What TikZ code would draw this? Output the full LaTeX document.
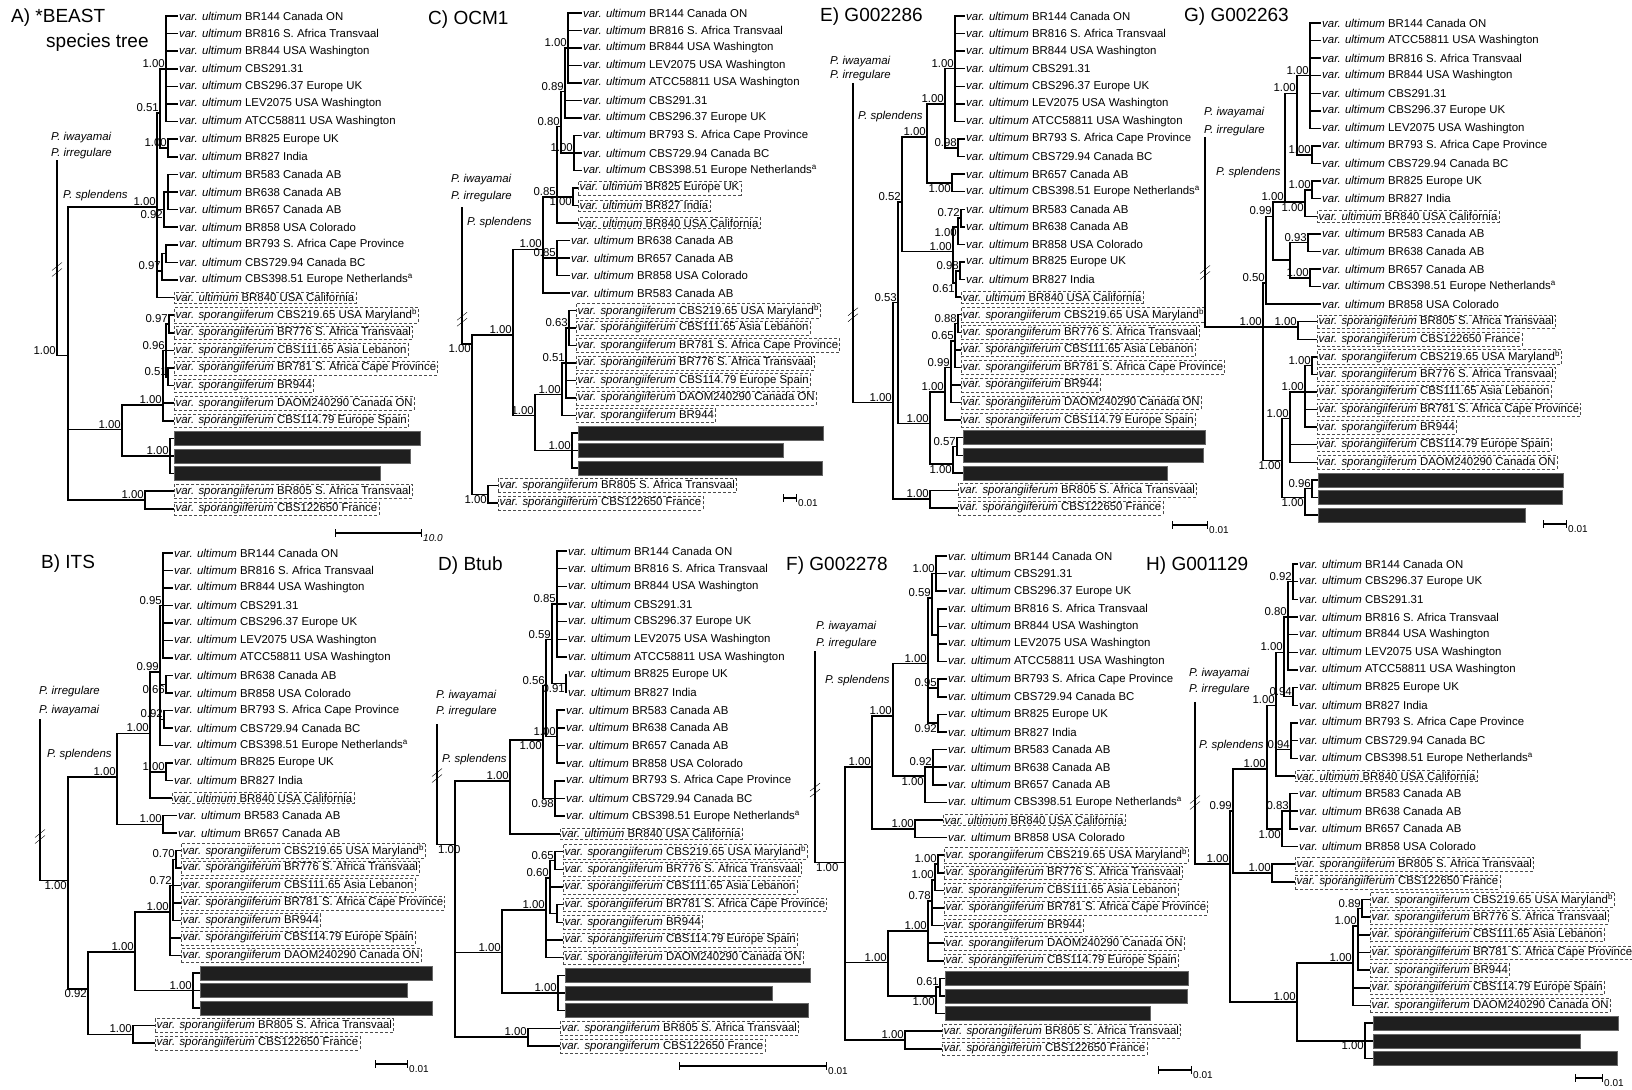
\documentclass[tikz,border=0pt]{standalone}
\usepackage{fontspec}
\setmainfont{Liberation Sans}
\usepackage{tikz}
\usetikzlibrary{positioning,calc}
\newcommand{\lfont}{\fontsize{11.4}{13}\selectfont}
\newcommand{\ult}[1]{\textit{var. ultimum} #1}
\newcommand{\spo}[1]{\textit{var. sporangiiferum} #1}
\newcommand{\supa}{\textsuperscript{a}}
\newcommand{\supb}{\textsuperscript{b}}
% clade: [label anchor]{name}{x}{row}{support}{children}
\newcommand{\clade}[6][south east]{%
  \coordinate (#2) at (#3,#4);
  \node[sup, anchor=#1] (#2l) at (#2) {#5};
  \foreach \ch in {#6} {\draw[br] (#2) |- (\ch);}}
% break mark on a root branch
\newcommand{\brk}[1]{\draw[thin] ([shift={(-5pt,-7pt)}]#1) -- ([shift={(5pt,1pt)}]#1) ([shift={(-5pt,-1pt)}]#1) -- ([shift={(5pt,7pt)}]#1);}

\begin{document}
\begin{tikzpicture}[x=1pt, y=-1pt,
  leaf/.style={anchor=west, inner sep=1pt, font=\lfont},
  boxleaf/.style={leaf, draw=black!70, densely dashed, line width=0.4pt, inner sep=1.5pt},
  darkleaf/.style={anchor=west, fill=black!88, draw=black!60, minimum height=14pt, inner sep=0pt},
  sup/.style={inner sep=1pt, font=\lfont},
  taxon/.style={anchor=west, inner sep=1pt, font=\lfont\itshape},
  title/.style={anchor=west, inner sep=0pt, font=\fontsize{19}{22}\selectfont},
  br/.style={line width=1.5pt},
  scalebar/.style={line width=1.2pt, |-|},
  scalelbl/.style={anchor=north west, inner sep=1pt, font=\fontsize{10}{12}\selectfont}
]
\useasboundingbox (0,0) rectangle (1632,1089);
\fill[white] (0,0) rectangle (1632,1089);

% Titles
\node[title] (tA) at (11,18) {A) *BEAST};
\node[title] (tA2) at (46,43) {species tree};
\node[title] (tC) at (428,20) {C) OCM1};
\node[title] (tE) at (820,17) {E) G002286};
\node[title] (tG) at (1184,17) {G) G002263};
\node[title] (tB) at (41,564) {B) ITS};
\node[title] (tD) at (438,566) {D) Btub};
\node[title] (tF) at (786,566) {F) G002278};
\node[title] (tH) at (1146,566) {H) G001129};

% A) *BEAST species tree
\begin{scope}[y=-17.6pt, yshift=-16pt]
\foreach \txt [count=\i from 0] in {BR144 Canada ON, BR816 S. Africa Transvaal, BR844 USA Washington, CBS291.31, CBS296.37 Europe UK, LEV2075 USA Washington, ATCC58811 USA Washington, BR825 Europe UK, BR827 India, BR583 Canada AB, BR638 Canada AB, BR657 Canada AB, BR858 USA Colorado, BR793 S. Africa Cape Province, CBS729.94 Canada BC, CBS398.51 Europe Netherlands\supa}
  \node[leaf] (a\i) at (178,\i) {\ult{\txt}};
\node[boxleaf] (a16) at (174,16) {\ult{BR840 USA California}};
\foreach \txt [count=\i from 17] in {CBS219.65 USA Maryland\supb, BR776 S. Africa Transvaal, CBS111.65 Asia Lebanon, BR781 S. Africa Cape Province, BR944, DAOM240290 Canada ON, CBS114.79 Europe Spain}
  \node[boxleaf] (a\i) at (174,\i) {\spo{\txt}};
\foreach \w [count=\i from 24] in {246,236,206}
  \node[darkleaf, minimum width=\w pt] (a\i) at (174,\i) {};
\node[boxleaf] (a27) at (174,27) {\spo{BR805 S. Africa Transvaal}};
\node[boxleaf] (a28) at (174,28) {\spo{CBS122650 France}};
\clade{aU5}{166}{3}{1.00}{a0,a1,a2,a3,a4,a5,a6}
\clade{aU6}{168}{7.5}{1.00}{a7,a8}
\clade{aU2}{160}{5.5}{0.51}{aU5,aU6}
\clade{aU7}{168}{10}{}{a9,a10,a11}
\clade[north east]{aU3}{164}{11}{0.92}{aU7,a12}
\clade{aU8}{166}{13.5}{}{a13,a14}
\clade{aU4}{162}{14.5}{0.97}{aU8,a15}
\clade{aU}{157}{10.85}{1.00}{aU2,aU3,aU4,a16}
\clade{aP3}{169}{17.5}{0.97}{a17,a18}
\clade{aP4}{168}{20.5}{0.51}{a20,a21}
\clade{aP2}{166}{19}{0.96}{aP3,a19,aP4}
\clade{aP1}{163}{22.1}{1.00}{aP2,a22,a23}
\clade{aD}{170}{25}{1.00}{a24,a25,a26}
\clade{aP}{122}{23.5}{1.00}{aP1,aD}
\clade{aB}{145}{27.5}{1.00}{a27,a28}
\clade{aI}{68}{19.3}{}{aU,aP,aB}
\node[taxon] (aOg1) at (50,6.9) {P. iwayamai};
\node[taxon] (aOg2) at (50,7.8) {P. irregulare};
\node[taxon] (aSpl) at (62,10.2) {P. splendens};
\coordinate (aO) at (57,8.2);
\coordinate (aR) at (57,19.3);
\draw[br] (aO) -- (aR) -- (aI);
\node[sup, anchor=south east] (aRl) at (aR) {1.00};
\coordinate (aK) at (57,14.4);
\brk{aK}
\end{scope}

% C) OCM1
\begin{scope}[y=-17.5pt, yshift=-13pt]
\foreach \txt [count=\i from 0] in {BR144 Canada ON, BR816 S. Africa Transvaal, BR844 USA Washington, LEV2075 USA Washington, ATCC58811 USA Washington, CBS291.31, CBS296.37 Europe UK, BR793 S. Africa Cape Province, CBS729.94 Canada BC, CBS398.51 Europe Netherlands\supa}
  \node[leaf] (c\i) at (582,\i) {\ult{\txt}};
\foreach \txt [count=\i from 10] in {BR825 Europe UK, BR827 India, BR840 USA California}
  \node[boxleaf] (c\i) at (578,\i) {\ult{\txt}};
\foreach \txt [count=\i from 13] in {BR638 Canada AB, BR657 Canada AB, BR858 USA Colorado, BR583 Canada AB}
  \node[leaf] (c\i) at (570,\i) {\ult{\txt}};
\foreach \txt [count=\i from 17] in {CBS219.65 USA Maryland\supb, CBS111.65 Asia Lebanon, BR781 S. Africa Cape Province, BR776 S. Africa Transvaal, CBS114.79 Europe Spain, DAOM240290 Canada ON, BR944}
  \node[boxleaf] (c\i) at (576,\i) {\spo{\txt}};
\foreach \w [count=\i from 24] in {245,205,244}
  \node[darkleaf, minimum width=\w pt] (c\i) at (578,\i) {};
\node[boxleaf] (c27) at (498,27) {\spo{BR805 S. Africa Transvaal}};
\node[boxleaf] (c28) at (498,28) {\spo{CBS122650 France}};
\clade{cS7}{568}{2}{1.00}{c0,c1,c2,c3,c4}
\clade{cS5}{565}{4.5}{0.89}{cS7,c5,c6}
\clade{cS6}{574}{8}{1.00}{c7,c8,c9}
\clade{cS3}{561}{6.5}{0.80}{cS5,cS6}
\clade[north east]{cS4}{573}{10.5}{1.00}{c10,c11}
\clade{cS1}{557}{10.5}{0.85}{cS3,cS4,c12}
\clade{cS2}{557}{14}{0.85}{c13,c14,c15}
\clade{cS}{543}{13.5}{1.00}{cS1,cS2,c16}
\clade{cSP3}{569}{18}{0.63}{c17,c18,c19}
\clade{cSP2}{566}{20}{0.51}{cSP3,c20,c21,c22}
\clade{cSP1}{562}{21.8}{1.00}{cSP2,c23}
\clade{cD}{572}{25}{1.00}{c24,c25,c26}
\clade{cSPP}{535}{23}{1.00}{cSP1,cD}
\clade{cM}{513}{18.4}{1.00}{cS,cSPP}
\clade[north east]{cB}{488}{27.5}{1.00}{c27,c28}
\clade[north east]{cI}{472}{18.9}{1.00}{cM,cB}
\node[taxon] (cOg1) at (450,9.5) {P. iwayamai};
\node[taxon] (cOg2) at (450,10.5) {P. irregulare};
\node[taxon] (cSpl) at (466,12) {P. splendens};
\coordinate (cO) at (462,11.1);
\coordinate (cR) at (462,18.9);
\draw[br] (cO) -- (cR) -- (cI);
\coordinate (cK) at (462,17.5);
\brk{cK}
\end{scope}

% E) G002286
\begin{scope}[y=-17.57pt, yshift=-16pt]
\foreach \txt [count=\i from 0] in {BR144 Canada ON, BR816 S. Africa Transvaal, BR844 USA Washington, CBS291.31, CBS296.37 Europe UK, LEV2075 USA Washington, ATCC58811 USA Washington, BR793 S. Africa Cape Province, CBS729.94 Canada BC, BR657 Canada AB, CBS398.51 Europe Netherlands\supa, BR583 Canada AB, BR638 Canada AB, BR858 USA Colorado, BR825 Europe UK, BR827 India}
  \node[leaf] (e\i) at (965,\i) {\ult{\txt}};
\node[boxleaf] (e16) at (961,16) {\ult{BR840 USA California}};
\foreach \txt [count=\i from 17] in {CBS219.65 USA Maryland\supb, BR776 S. Africa Transvaal, CBS111.65 Asia Lebanon, BR781 S. Africa Cape Province, BR944, DAOM240290 Canada ON, CBS114.79 Europe Spain}
  \node[boxleaf] (e\i) at (961,\i) {\spo{\txt}};
\foreach \w [count=\i from 24] in {242,240,204}
  \node[darkleaf, minimum width=\w pt] (e\i) at (963,\i) {};
\node[boxleaf] (e27) at (958,27) {\spo{BR805 S. Africa Transvaal}};
\node[boxleaf] (e28) at (958,28) {\spo{CBS122650 France}};
\clade{eUc}{955}{3}{1.00}{e0,e1,e2,e3,e4,e5,e6}
\clade{eUd}{958}{7.5}{0.98}{e7,e8}
\clade{eUa}{945}{5}{1.00}{eUc,eUd}
\clade[north east]{eUb}{952}{9.5}{1.00}{e9,e10}
\clade{eU}{927}{6.9}{1.00}{eUa,eUb}
\clade{eV0}{961}{11.5}{0.72}{e11,e12}
\clade[north east]{eV1}{958}{12}{1.00}{eV0,e13}
\clade{eV2}{960}{14.5}{0.98}{e14,e15}
\clade[north east]{eV3}{956}{15.2}{0.61}{eV2,e16}
\clade{eV}{953}{13.4}{1.00}{eV1,eV3}
\clade{eU0}{902}{10.6}{0.52}{eU,eV}
\clade{eSP4}{958}{17.5}{0.88}{e17,e18}
\clade{eSP3}{955}{18.5}{0.65}{eSP4,e19,e20}
\clade{eSP2}{951}{20}{0.99}{eSP3,e21,e22}
\clade{eSP1}{945}{21.4}{1.00}{eSP2,e23}
\clade{eDk2}{957}{24.5}{0.57}{e24,e25}
\clade[north east]{eDk}{953}{25.5}{1.00}{eDk2,e26}
\clade{eSP}{930}{23.2}{1.00}{eSP1,eDk}
\clade{eJ}{898}{16.3}{0.53}{eU0,eSP}
\clade{eB}{930}{27.5}{1.00}{e27,e28}
\clade{eI}{893}{22}{1.00}{eJ,eB}
\node[taxon] (eOg1) at (829,2.6) {P. iwayamai};
\node[taxon] (eOg2) at (829,3.4) {P. irregulare};
\node[taxon] (eSpl) at (857,5.7) {P. splendens};
\coordinate (eO) at (853,3.8);
\coordinate (eR) at (853,22);
\draw[br] (eO) -- (eR) -- (eI);
\coordinate (eK) at (853,17);
\brk{eK}
\end{scope}

% G) G002263
\begin{scope}[y=-17.57pt, yshift=-23pt]
\foreach \txt [count=\i from 0] in {BR144 Canada ON, ATCC58811 USA Washington, BR816 S. Africa Transvaal, BR844 USA Washington, CBS291.31, CBS296.37 Europe UK, LEV2075 USA Washington, BR793 S. Africa Cape Province, CBS729.94 Canada BC, BR825 Europe UK, BR827 India}
  \node[leaf] (g\i) at (1321,\i) {\ult{\txt}};
\node[boxleaf] (g11) at (1317,11) {\ult{BR840 USA California}};
\foreach \txt [count=\i from 12] in {BR583 Canada AB, BR638 Canada AB, BR657 Canada AB, CBS398.51 Europe Netherlands\supa, BR858 USA Colorado}
  \node[leaf] (g\i) at (1321,\i) {\ult{\txt}};
\foreach \txt [count=\i from 17] in {BR805 S. Africa Transvaal, CBS122650 France, CBS219.65 USA Maryland\supb, BR776 S. Africa Transvaal, CBS111.65 Asia Lebanon, BR781 S. Africa Cape Province, BR944, CBS114.79 Europe Spain, DAOM240290 Canada ON}
  \node[boxleaf] (g\i) at (1317,\i) {\spo{\txt}};
\foreach \w [count=\i from 26] in {245,244,207}
  \node[darkleaf, minimum width=\w pt] (g\i) at (1318,\i) {};
\clade{gM3}{1310}{3}{1.00}{g0,g1,g2,g3,g4,g5,g6}
\clade{gM4}{1312}{7.5}{1.00}{g7,g8}
\clade{gM1}{1297}{4}{1.00}{gM3,gM4}
\clade{gM5}{1312}{9.5}{1.00}{g9,g10}
\clade[north east]{gM2}{1305}{10.2}{1.00}{gM5,g11}
\clade{gM}{1285}{10.2}{1.00}{gM1,gM2}
\clade{gN1}{1308}{12.5}{0.93}{g12,g13}
\clade{gN2}{1310}{14.5}{1.00}{g14,g15}
\clade{gN}{1290}{13.5}{}{gN1,gN2}
\clade{gL}{1273}{11}{0.99}{gM,gN}
\clade{gK}{1266}{14.8}{0.50}{gL,g16}
\clade{gB}{1298}{17.3}{1.00}{g17,g18}
\clade{gSP3}{1312}{19.5}{1.00}{g19,g20}
\clade{gSP2}{1305}{21}{1.00}{gSP3,g21,g22,g23}
\clade{gSP1}{1290}{22.5}{1.00}{gSP2,g24,g25}
\clade{gDk2}{1312}{26.5}{0.96}{g26,g27}
\clade[north east]{gDk}{1305}{27}{1.00}{gDk2,g28}
\clade[north east]{gSP}{1282}{24.9}{1.00}{gSP1,gDk}
\clade{gI}{1263}{17.3}{1.00}{gK,gB,gSP}
\node[taxon] (gOg1) at (1203,5.1) {P. iwayamai};
\node[taxon] (gOg2) at (1203,6.1) {P. irregulare};
\node[taxon] (gSpl) at (1215,8.5) {P. splendens};
\coordinate (gO) at (1205,6.5);
\coordinate (gR) at (1205,17.3);
\draw[br] (gO) -- (gR) -- (gI);
\coordinate (gK2) at (1205,14.2);
\brk{gK2}
\end{scope}

% B) ITS
\begin{scope}[y=-17.5pt, yshift=-553pt]
\foreach \txt [count=\i from 0] in {BR144 Canada ON, BR816 S. Africa Transvaal, BR844 USA Washington, CBS291.31, CBS296.37 Europe UK, LEV2075 USA Washington, ATCC58811 USA Washington, BR638 Canada AB, BR858 USA Colorado, BR793 S. Africa Cape Province, CBS729.94 Canada BC, CBS398.51 Europe Netherlands\supa, BR825 Europe UK, BR827 India}
  \node[leaf] (b\i) at (173,\i) {\ult{\txt}};
\node[boxleaf] (b14) at (172,14) {\ult{BR840 USA California}};
\foreach \txt [count=\i from 15] in {BR583 Canada AB, BR657 Canada AB}
  \node[leaf] (b\i) at (177,\i) {\ult{\txt}};
\foreach \txt [count=\i from 17] in {CBS219.65 USA Maryland\supb, BR776 S. Africa Transvaal, CBS111.65 Asia Lebanon, BR781 S. Africa Cape Province, BR944, CBS114.79 Europe Spain, DAOM240290 Canada ON}
  \node[boxleaf] (b\i) at (181,\i) {\spo{\txt}};
\foreach \w [count=\i from 24] in {232,207,232}
  \node[darkleaf, minimum width=\w pt] (b\i) at (200,\i) {};
\node[boxleaf] (b27) at (155,27) {\spo{BR805 S. Africa Transvaal}};
\node[boxleaf] (b28) at (155,28) {\spo{CBS122650 France}};
\clade{bU5}{163}{3}{0.95}{b0,b1,b2,b3,b4,b5,b6}
\clade[north east]{bU6}{166}{7.5}{0.66}{b7,b8}
\clade{bU7}{164}{9.5}{0.92}{b9,b10}
\clade{bU3}{160}{6.8}{0.99}{bU5,bU6,bU7,b11}
\clade{bU4}{166}{12.5}{1.00}{b12,b13}
\clade{bU1}{150}{10.3}{1.00}{bU3,bU4,b14}
\clade{bU2}{163}{15.5}{1.00}{b15,b16}
\clade{bU}{117}{12.8}{1.00}{bU1,bU2}
\clade{bSP3}{176}{17.5}{0.70}{b17,b18}
\clade{bSP2}{173}{19}{0.72}{bSP3,b19,b20,b21}
\clade{bSP1}{170}{20.5}{1.00}{bSP2,b22,b23}
\clade{bDk}{193}{25}{1.00}{b24,b25,b26}
\clade{bSPP}{135}{22.8}{1.00}{bSP1,bDk}
\clade{bB}{133}{27.5}{1.00}{b27,b28}
\clade[north east]{bQ}{88}{24.9}{0.92}{bSPP,bB}
\clade[north east]{bI}{68}{18.7}{1.00}{bU,bQ}
\node[taxon] (bOg1) at (38,7.9) {P. irregulare};
\node[taxon] (bOg2) at (38,9) {P. iwayamai};
\node[taxon] (bSpl) at (46,11.5) {P. splendens};
\coordinate (bO) at (40,9.5);
\coordinate (bR) at (40,18.7);
\draw[br] (bO) -- (bR) -- (bI);
\coordinate (bK) at (40,16.2);
\brk{bK}
\end{scope}

% D) Btub
\begin{scope}[y=-17.68pt, yshift=-551pt]
\foreach \txt [count=\i from 0] in {BR144 Canada ON, BR816 S. Africa Transvaal, BR844 USA Washington, CBS291.31, CBS296.37 Europe UK, LEV2075 USA Washington, ATCC58811 USA Washington, BR825 Europe UK, BR827 India}
  \node[leaf] (d\i) at (567,\i) {\ult{\txt}};
\foreach \txt [count=\i from 9] in {BR583 Canada AB, BR638 Canada AB, BR657 Canada AB, BR858 USA Colorado, BR793 S. Africa Cape Province, CBS729.94 Canada BC, CBS398.51 Europe Netherlands\supa}
  \node[leaf] (d\i) at (565,\i) {\ult{\txt}};
\node[boxleaf] (d16) at (560,16) {\ult{BR840 USA California}};
\foreach \txt [count=\i from 17] in {CBS219.65 USA Maryland\supb, BR776 S. Africa Transvaal, CBS111.65 Asia Lebanon, BR781 S. Africa Cape Province, BR944, CBS114.79 Europe Spain, DAOM240290 Canada ON}
  \node[boxleaf] (d\i) at (563,\i) {\spo{\txt}};
\foreach \w [count=\i from 24] in {245,207,243}
  \node[darkleaf, minimum width=\w pt] (d\i) at (565,\i) {};
\node[boxleaf] (d27) at (560,27) {\spo{BR805 S. Africa Transvaal}};
\node[boxleaf] (d28) at (560,28) {\spo{CBS122650 France}};
\clade{dU7}{557}{3}{0.85}{d0,d1,d2,d3,d4,d5,d6}
\clade[north east]{dU6}{566}{7.5}{0.91}{d7,d8}
\clade{dU2}{552}{5}{0.59}{dU7,dU6}
\clade{dU3}{557}{10.5}{1.00}{d9,d10,d11,d12}
\clade{dUa}{546}{7.6}{0.56}{dU2,dU3}
\clade[north east]{dU4}{555}{14}{0.98}{d13,d14,d15}
\clade[north east]{dU1}{543}{10.7}{1.00}{dUa,dU4}
\clade{dU}{510}{13}{1.00}{dU1,d16}
\clade{dSP3}{555}{17.5}{0.65}{d17,d18}
\clade{dSP4}{557}{20.5}{}{d20,d21}
\clade{dSP2}{550}{18.5}{0.60}{dSP3,d19,dSP4}
\clade{dSP1}{546}{20.3}{1.00}{dSP2,d22,d23}
\clade{dDk}{558}{25}{1.00}{d24,d25,d26}
\clade{dSPP}{502}{22.7}{1.00}{dSP1,dDk}
\clade{dB}{528}{27.5}{1.00}{d27,d28}
\clade{dI}{455}{16.6}{}{dU,dSPP,dB}
\node[taxon] (dOg1) at (435,8.2) {P. iwayamai};
\node[taxon] (dOg2) at (435,9.1) {P. irregulare};
\node[taxon] (dSpl) at (441,11.8) {P. splendens};
\coordinate (dO) at (437,9.8);
\coordinate (dR) at (437,16.6);
\draw[br] (dO) -- (dR) -- (dI);
\node[sup, anchor=north west] (dRl) at (dR) {1.00};
\coordinate (dK) at (437,12.7);
\brk{dK}
\end{scope}

% F) G002278
\begin{scope}[y=-17.6pt, yshift=-556pt]
\foreach \txt [count=\i from 0] in {BR144 Canada ON, CBS291.31, CBS296.37 Europe UK, BR816 S. Africa Transvaal, BR844 USA Washington, LEV2075 USA Washington, ATCC58811 USA Washington, BR793 S. Africa Cape Province, CBS729.94 Canada BC, BR825 Europe UK, BR827 India, BR583 Canada AB, BR638 Canada AB, BR657 Canada AB, CBS398.51 Europe Netherlands\supa}
  \node[leaf] (f\i) at (947,\i) {\ult{\txt}};
\node[boxleaf] (f15) at (943,15) {\ult{BR840 USA California}};
\node[leaf] (f16) at (947,16) {\ult{BR858 USA Colorado}};
\foreach \txt [count=\i from 17] in {CBS219.65 USA Maryland\supb, BR776 S. Africa Transvaal, CBS111.65 Asia Lebanon, BR781 S. Africa Cape Province, BR944, DAOM240290 Canada ON, CBS114.79 Europe Spain}
  \node[boxleaf] (f\i) at (944,\i) {\spo{\txt}};
\foreach \w [count=\i from 24] in {243,242,205}
  \node[darkleaf, minimum width=\w pt] (f\i) at (945,\i) {};
\node[boxleaf] (f27) at (942,27) {\spo{BR805 S. Africa Transvaal}};
\node[boxleaf] (f28) at (942,28) {\spo{CBS122650 France}};
\clade{fU6}{936}{1}{1.00}{f0,f1,f2}
\clade{fU7}{938}{4.5}{}{f3,f4,f5,f6}
\clade{fU3}{932}{2.4}{0.59}{fU6,fU7}
\clade{fU4}{938}{7.5}{0.95}{f7,f8}
\clade[north east]{fU5}{938}{9.5}{0.92}{f9,f10}
\clade{fU1}{928}{6.1}{1.00}{fU3,fU4,fU5}
\clade{fU8}{933}{12}{0.92}{f11,f12,f13}
\clade[north east]{fU2}{925}{12.5}{1.00}{fU8,f14}
\clade{fU}{893}{9.1}{1.00}{fU1,fU2}
\clade{fW}{915}{15.5}{1.00}{f15,f16}
\clade{fU0}{872}{12}{1.00}{fU,fW}
\clade{fSP4}{938}{17.5}{1.00}{f17,f18}
\clade{fSP3}{935}{18.4}{1.00}{fSP4,f19}
\clade{fSP2}{932}{19.6}{0.78}{fSP3,f20,f21}
\clade{fSP1}{928}{21.3}{1.00}{fSP2,f22,f23}
\clade{fDk2}{940}{24.5}{0.61}{f24,f25}
\clade[north east]{fDk}{936}{25}{1.00}{fDk2,f26}
\clade{fSPP}{888}{23.1}{1.00}{fSP1,fDk}
\clade{fB}{905}{27.5}{1.00}{f27,f28}
\clade{fI}{845}{17.4}{}{fU0,fSPP,fB}
\node[taxon] (fOg1) at (815,4) {P. iwayamai};
\node[taxon] (fOg2) at (815,5) {P. irregulare};
\node[taxon] (fSpl) at (824,7.1) {P. splendens};
\coordinate (fO) at (815,5.4);
\coordinate (fR) at (815,17.4);
\draw[br] (fO) -- (fR) -- (fI);
\node[sup, anchor=north west] (fRl) at (fR) {1.00};
\coordinate (fK) at (815,13.3);
\brk{fK}
\end{scope}

% H) G001129
\begin{scope}[y=-17.66pt, yshift=-564pt]
\foreach \txt [count=\i from 0] in {BR144 Canada ON, CBS296.37 Europe UK, CBS291.31, BR816 S. Africa Transvaal, BR844 USA Washington, LEV2075 USA Washington, ATCC58811 USA Washington, BR825 Europe UK, BR827 India, BR793 S. Africa Cape Province, CBS729.94 Canada BC, CBS398.51 Europe Netherlands\supa}
  \node[leaf] (h\i) at (1298,\i) {\ult{\txt}};
\node[boxleaf] (h12) at (1295,12) {\ult{BR840 USA California}};
\foreach \txt [count=\i from 13] in {BR583 Canada AB, BR638 Canada AB, BR657 Canada AB, BR858 USA Colorado}
  \node[leaf] (h\i) at (1298,\i) {\ult{\txt}};
\node[boxleaf] (h17) at (1295,17) {\spo{BR805 S. Africa Transvaal}};
\node[boxleaf] (h18) at (1295,18) {\spo{CBS122650 France}};
\foreach \txt [count=\i from 19] in {CBS219.65 USA Maryland\supb, BR776 S. Africa Transvaal, CBS111.65 Asia Lebanon, BR781 S. Africa Cape Province, BR944, CBS114.79 Europe Spain, DAOM240290 Canada ON}
  \node[boxleaf] (h\i) at (1370,\i) {\spo{\txt}};
\foreach \w [count=\i from 26] in {245,207,244}
  \node[darkleaf, minimum width=\w pt] (h\i) at (1373,\i) {};
\clade{hU7}{1293}{1}{0.92}{h0,h1,h2}
\clade{hU5}{1288}{3}{0.80}{hU7,h3,h4,h5,h6}
\clade{hU6}{1293}{7.5}{0.94}{h7,h8}
\clade{hU3}{1284}{5}{1.00}{hU5,hU6}
\clade{hU4}{1291}{10.5}{0.94}{h9,h10,h11}
\clade{hU1}{1276}{8}{1.00}{hU3,hU4,h12}
\clade{hU8}{1290}{14}{0.83}{h13,h14,h15}
\clade[north east]{hU2}{1282}{15}{1.00}{hU8,h16}
\clade{hU}{1267}{11.6}{1.00}{hU1,hU2}
\clade{hB}{1272}{17.5}{1.00}{h17,h18}
\clade{hJ}{1233}{14}{0.99}{hU,hB}
\clade{hSP3}{1362}{19.5}{0.89}{h19,h20}
\clade{hSP2}{1358}{20.5}{1.00}{hSP3,h21,h22,h23}
\clade{hSP1}{1353}{22.6}{1.00}{hSP2,h24,h25}
\clade[north east]{hDk}{1365}{27}{1.00}{h26,h27,h28}
\clade{hSPP}{1297}{24.8}{1.00}{hSP1,hDk}
\clade{hI}{1230}{17}{1.00}{hJ,hSPP}
\node[taxon] (hOg1) at (1188,6.2) {P. iwayamai};
\node[taxon] (hOg2) at (1188,7.1) {P. irregulare};
\node[taxon] (hSpl) at (1198,10.3) {P. splendens};
\coordinate (hO) at (1195,7.8);
\coordinate (hR) at (1195,17);
\draw[br] (hO) -- (hR) -- (hI);
\coordinate (hK) at (1195,13.5);
\brk{hK}
\end{scope}

% Scale bars
\coordinate (sa1) at (335,533); \coordinate (sa2) at (422,533);
\draw[scalebar] (sa1) -- (sa2);
\node[scalelbl, font=\fontsize{10}{12}\selectfont\itshape] (sal) at (sa2) {10.0};
\coordinate (sc1) at (783,498); \coordinate (sc2) at (797,498);
\draw[scalebar] (sc1) -- (sc2);
\node[scalelbl] (scl) at (sc2) {0.01};
\coordinate (se1) at (1172,525); \coordinate (se2) at (1208,525);
\draw[scalebar] (se1) -- (se2);
\node[scalelbl] (sel) at (se2) {0.01};
\coordinate (sg1) at (1543,524); \coordinate (sg2) at (1567,524);
\draw[scalebar] (sg1) -- (sg2);
\node[scalelbl] (sgl) at (sg2) {0.01};
\coordinate (sb1) at (375,1064); \coordinate (sb2) at (408,1064);
\draw[scalebar] (sb1) -- (sb2);
\node[scalelbl] (sbl) at (sb2) {0.01};
\coordinate (sd1) at (679,1066); \coordinate (sd2) at (827,1066);
\draw[scalebar] (sd1) -- (sd2);
\node[scalelbl] (sdl) at (sd2) {0.01};
\coordinate (sf1) at (1158,1070); \coordinate (sf2) at (1192,1070);
\draw[scalebar] (sf1) -- (sf2);
\node[scalelbl] (sfl) at (sf2) {0.01};
\coordinate (sh1) at (1575,1078); \coordinate (sh2) at (1603,1078);
\draw[scalebar] (sh1) -- (sh2);
\node[scalelbl] (shl) at (sh2) {0.01};
\end{tikzpicture}
\end{document}
